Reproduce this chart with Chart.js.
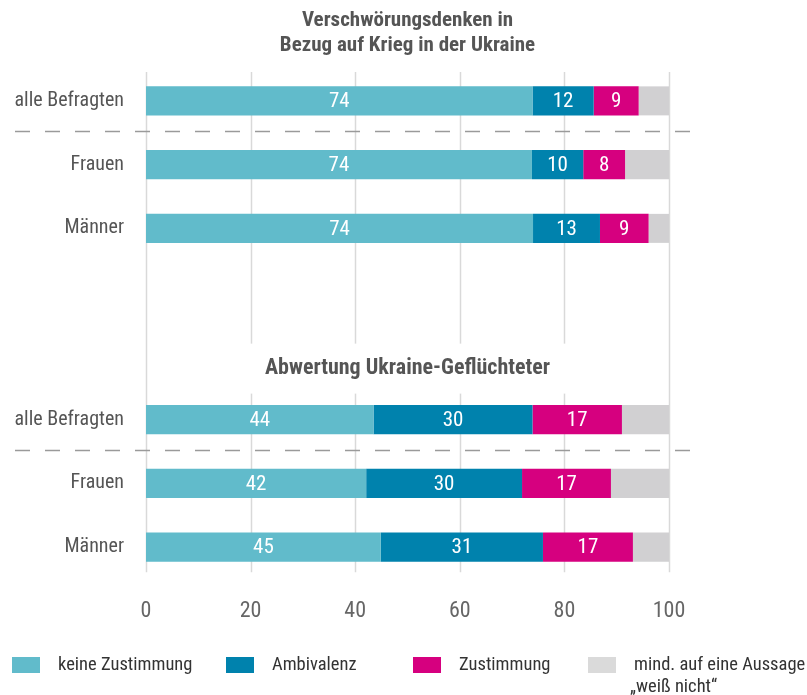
<!DOCTYPE html>
<html>
<head>
<meta charset="utf-8">
<script src="https://cdn.jsdelivr.net/npm/chart.js@4.4.1/dist/chart.umd.min.js"></script>
<style>
    html, body { margin: 0; padding: 0; background: #fff; }
    #wrap { position: relative; width: 807px; height: 695px; }
</style>
</head>
<body>
<div id="wrap"><canvas id="barChart" width="807" height="695"></canvas></div>
<script>
const categories = ['alle Befragten', 'Frauen', 'Männer', '', '', 'alle Befragten', 'Frauen', 'Männer'];
const keineZustimmung = [73.9, 73.8, 74.0, null, null, 43.5, 42.1, 44.9];
const ambivalenz = [11.7, 9.8, 12.8, null, null, 30.4, 29.8, 31.0];
const zustimmung = [8.6, 8.0, 9.3, null, null, 17.1, 17.0, 17.2];
const weissNicht = [5.8, 8.4, 3.9, null, null, 9.0, 11.1, 6.9];
const xTicks = [0, 20, 40, 60, 80, 100];
const seriesNames = ['keine Zustimmung', 'Ambivalenz', 'Zustimmung', 'mind. auf eine Aussage'];
const titleTop = ['Verschwörungsdenken in', 'Bezug auf Krieg in der Ukraine'];
const titleMid = 'Abwertung Ukraine-Geflüchteter';

const FONT = '"Roboto Condensed", "Liberation Sans Narrow", "DejaVu Sans Condensed", Roboto, sans-serif';
const colors = ['#61BBCB', '#0082AD', '#D6007F', '#D1D0D2'];

const decoPlugin = {
    id: 'deco',
    beforeDatasetsDraw(chart) {
        const ctx = chart.ctx;
        const x = chart.scales.x;
        const y = chart.scales.y;
        const top = y.getPixelForValue(0) - 29;
        const bottom = y.getPixelForValue(7) + 25;

        // vertical grid
        ctx.save();
        ctx.strokeStyle = '#d9d9d9';
        ctx.lineWidth = 1.5;
        xTicks.forEach(v => {
            const px = Math.round(x.getPixelForValue(v)) + 0.5;
            ctx.beginPath();
            ctx.moveTo(px, top);
            ctx.lineTo(px, bottom);
            ctx.stroke();
        });

        // white box behind middle title
        const ty = y.getPixelForValue(5) - 51;
        ctx.fillStyle = '#fff';
        ctx.fillRect(x.getPixelForValue(17), ty - 25, x.getPixelForValue(83) - x.getPixelForValue(17), 50);

        // dashed separators
        ctx.strokeStyle = '#9a9a9a';
        ctx.lineWidth = 1.5;
        ctx.setLineDash([15, 15]);
        [0, 5].forEach(i => {
            const py = Math.round(y.getPixelForValue(i) + 30) + 0.5;
            ctx.beginPath();
            ctx.moveTo(15, py);
            ctx.lineTo(690, py);
            ctx.stroke();
        });
        ctx.restore();
    },
    afterDatasetsDraw(chart) {
        const ctx = chart.ctx;
        ctx.save();
        ctx.fillStyle = '#fff';
        ctx.font = '21px ' + FONT;
        ctx.textAlign = 'center';
        ctx.textBaseline = 'middle';
        for (let d = 0; d < 3; d++) {
            const meta = chart.getDatasetMeta(d);
            meta.data.forEach((bar, i) => {
                const v = chart.data.datasets[d].data[i];
                if (v == null) return;
                const cx = (bar.x + bar.base) / 2;
                ctx.fillText(String(Math.round(v)), cx, bar.y + 1);
            });
        }
        ctx.restore();
    },
    afterDraw(chart) {
        const ctx = chart.ctx;
        const y = chart.scales.y;
        const cx = (chart.chartArea.left + chart.chartArea.right) / 2;
        ctx.save();
        ctx.fillStyle = '#555';
        ctx.font = 'bold 21px ' + FONT;
        ctx.textAlign = 'center';
        ctx.textBaseline = 'middle';
        ctx.fillText(titleTop[0], cx, 21);
        ctx.fillText(titleTop[1], cx, 46);
        ctx.font = 'bold 22px ' + FONT;
        ctx.fillText(titleMid, cx, y.getPixelForValue(5) - 51);

        // legend
        const boxX = [12, 226, 413, 588];
        ctx.font = '18.5px ' + FONT;
        ctx.textAlign = 'left';
        seriesNames.forEach((name, i) => {
            ctx.fillStyle = i === 3 ? '#dadada' : colors[i];
            ctx.fillRect(boxX[i], 657, 28, 16);
            ctx.fillStyle = '#333';
            ctx.fillText(name, boxX[i] + 46, 665);
        });
        ctx.fillText('„weiß nicht“', boxX[3] + 42, 687);
        ctx.restore();
    }
};

const ctx = document.getElementById('barChart').getContext('2d');
const barChart = new Chart(ctx, {
    type: 'bar',
    data: {
        labels: categories,
        datasets: [keineZustimmung, ambivalenz, zustimmung, weissNicht].map((data, i) => ({
            label: seriesNames[i],
            data: data,
            backgroundColor: colors[i],
            borderWidth: 0,
            categoryPercentage: 1,
            barPercentage: 0.455
        }))
    },
    options: {
        indexAxis: 'y',
        responsive: false,
        animation: false,
        layout: {
            padding: { top: 69, right: 138, bottom: 56, left: 0 }
        },
        scales: {
            x: {
                stacked: true,
                min: 0,
                max: 100,
                grid: { display: false },
                border: { display: false },
                afterFit: function (scale) { scale.height = 60; },
                ticks: {
                    stepSize: 20,
                    padding: 11,
                    color: '#666',
                    font: { family: FONT, size: 22 }
                }
            },
            y: {
                stacked: true,
                grid: { display: false },
                border: { display: false },
                afterFit: function (scale) { scale.width = 146; },
                ticks: {
                    padding: 14,
                    color: '#555',
                    font: { family: FONT, size: 20 }
                }
            }
        },
        plugins: {
            legend: { display: false },
            tooltip: { enabled: false }
        }
    },
    plugins: [decoPlugin]
});
</script>
</body>
</html>
